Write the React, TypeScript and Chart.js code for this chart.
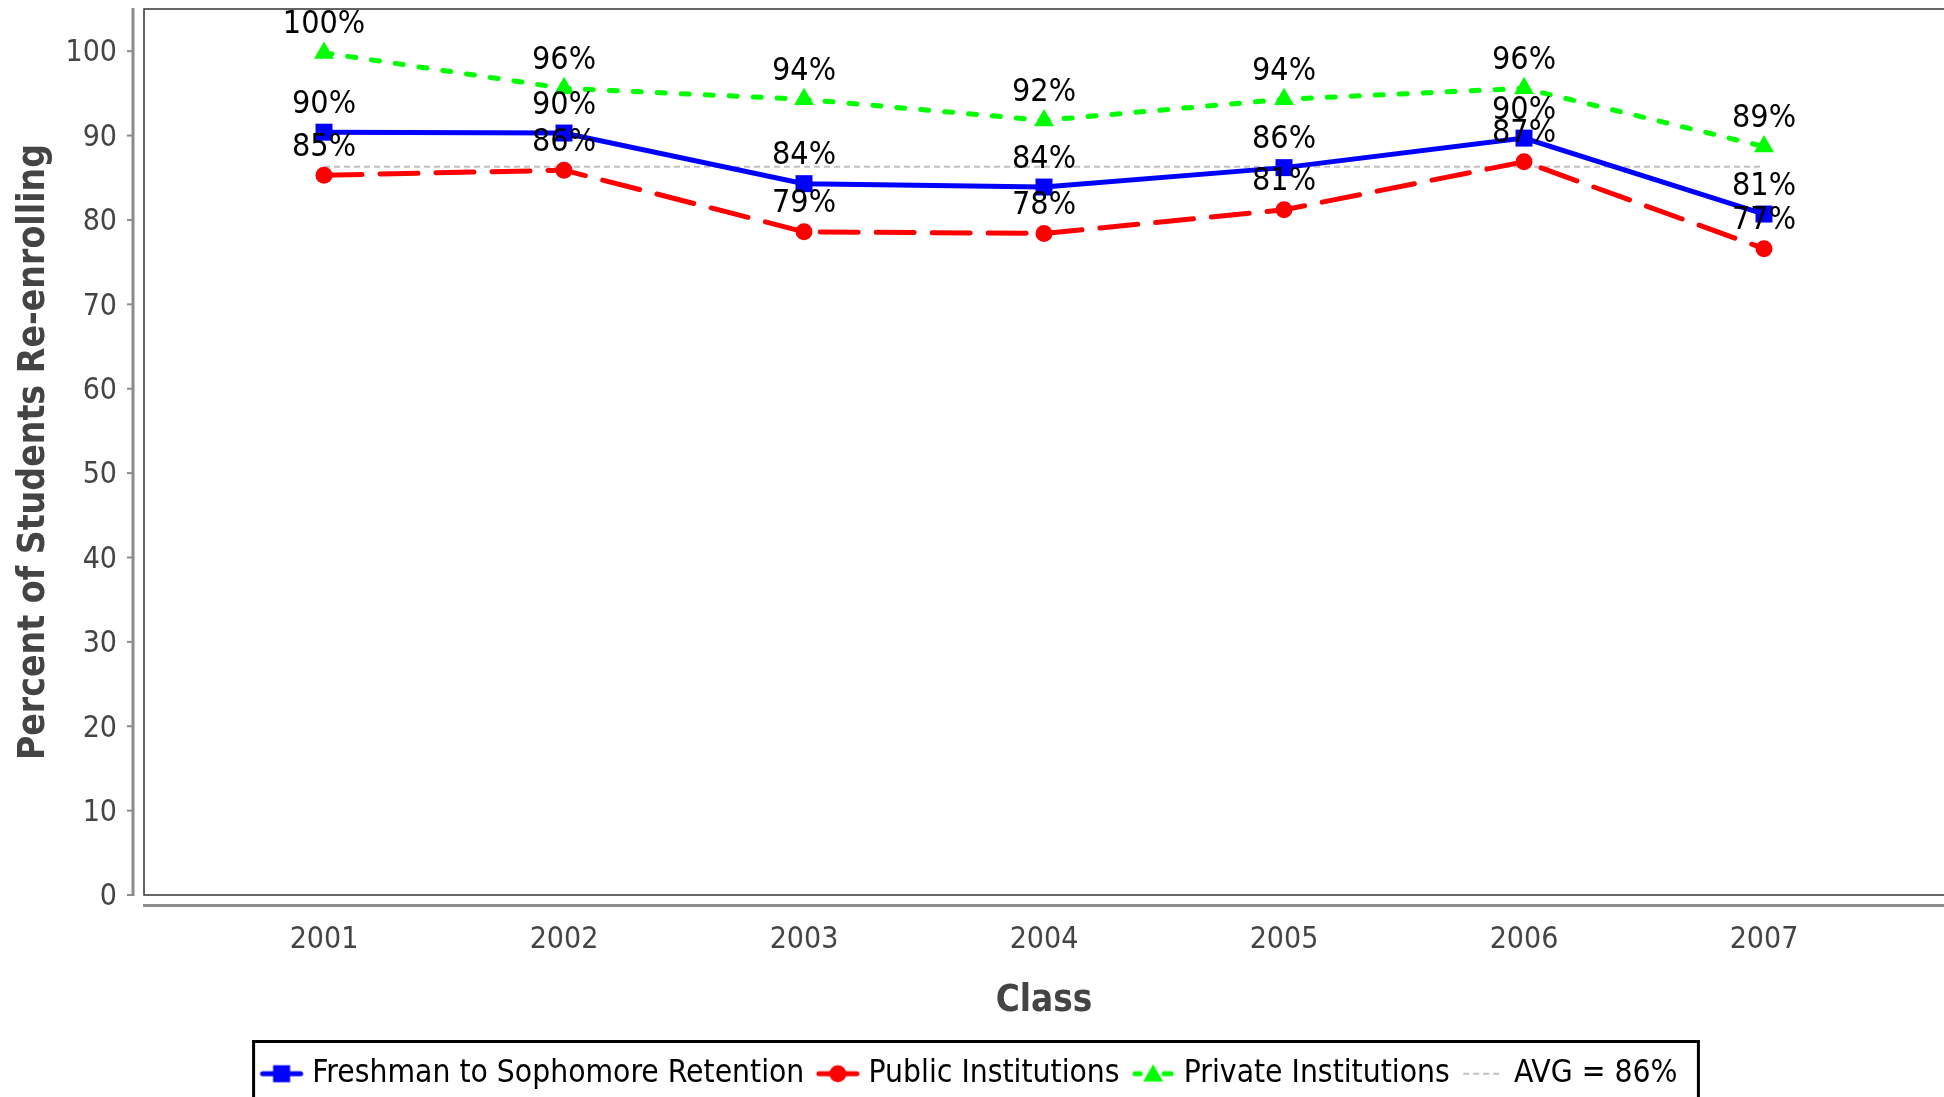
import React, { useEffect, useRef } from 'react';
import { Chart, registerables } from 'chart.js';

Chart.register(...registerables);

const FAMILY = "'DejaVu Sans Condensed', 'DejaVu Sans', sans-serif";

const years = [2001, 2002, 2003, 2004, 2005, 2006, 2007];
const retention = [90.4, 90.3, 84.3, 83.9, 86.2, 89.7, 80.7];
const publicInst = [85.3, 85.9, 78.6, 78.4, 81.2, 86.9, 76.6];
const privateInst = [99.8, 95.6, 94.3, 91.8, 94.3, 95.6, 88.7];
const avgValue = 86.3;
const yTickValues = [0, 10, 20, 30, 40, 50, 60, 70, 80, 90, 100];
const seriesNames = [
  'Freshman to Sophomore Retention',
  'Public Institutions',
  'Private Institutions',
  'AVG = 86%',
];
const xTitle = 'Class';
const yTitle = 'Percent of Students Re-enrolling';

const BLUE = '#0000ff';
const RED = '#ff0000';
const GREEN = '#00ff00';
const GRAY = '#c0c0c0';

function makeIcon(kind: string, color: string): HTMLCanvasElement {
  const c = document.createElement('canvas');
  c.width = 46;
  c.height = 26;
  const g = c.getContext('2d') as CanvasRenderingContext2D;
  const cy = 13;
  const cx = 23;
  g.strokeStyle = color;
  g.fillStyle = color;
  if (kind === 'avg') {
    g.lineWidth = 2;
    g.setLineDash([6, 4]);
    g.beginPath();
    g.moveTo(3, cy);
    g.lineTo(43, cy);
    g.stroke();
    return c;
  }
  g.lineWidth = 5;
  g.lineCap = 'round';
  if (kind === 'tri') {
    g.beginPath();
    g.moveTo(5, cy);
    g.lineTo(10, cy);
    g.moveTo(34, cy);
    g.lineTo(41, cy);
    g.stroke();
  } else {
    g.beginPath();
    g.moveTo(4, cy);
    g.lineTo(42, cy);
    g.stroke();
  }
  if (kind === 'rect') {
    g.fillRect(cx - 8.5, cy - 8.5, 17, 17);
  } else if (kind === 'circle') {
    g.beginPath();
    g.arc(cx, cy, 8.5, 0, Math.PI * 2);
    g.fill();
  } else if (kind === 'tri') {
    const r = 11.5;
    g.beginPath();
    g.moveTo(cx, cy - r + 2);
    g.lineTo(cx + r * 0.866, cy + r / 2 + 2);
    g.lineTo(cx - r * 0.866, cy + r / 2 + 2);
    g.closePath();
    g.fill();
  }
  return c;
}

const framePlugin = {
  id: 'frameAndAxes',
  beforeDatasetsDraw(chart: any) {
    const { ctx, chartArea } = chart;
    const ys = chart.scales.y;
    ctx.save();
    // plot frame
    ctx.strokeStyle = '#333333';
    ctx.lineWidth = 1.5;
    ctx.strokeRect(chartArea.left, chartArea.top, chartArea.right - chartArea.left + 4, chartArea.bottom - chartArea.top);
    // offset y axis line
    ctx.strokeStyle = '#8c8c8c';
    ctx.lineWidth = 3;
    ctx.beginPath();
    ctx.moveTo(chartArea.left - 11, chartArea.top - 1);
    ctx.lineTo(chartArea.left - 11, ys.getPixelForValue(0) + 1);
    ctx.stroke();
    ctx.lineWidth = 2;
    yTickValues.forEach((v) => {
      const py = ys.getPixelForValue(v);
      ctx.beginPath();
      ctx.moveTo(chartArea.left - 17, py);
      ctx.lineTo(chartArea.left - 11, py);
      ctx.stroke();
    });
    // offset x axis line
    ctx.lineWidth = 3;
    ctx.beginPath();
    ctx.moveTo(chartArea.left - 1, chartArea.bottom + 10.5);
    ctx.lineTo(chart.width, chartArea.bottom + 10.5);
    ctx.stroke();
    ctx.restore();
  },
};

const labelPlugin = {
  id: 'valueLabels',
  afterDatasetsDraw(chart: any) {
    const { ctx } = chart;
    const series = [retention, publicInst, privateInst];
    ctx.save();
    ctx.font = `32px ${FAMILY}`;
    ctx.fillStyle = '#000000';
    ctx.textAlign = 'center';
    ctx.textBaseline = 'alphabetic';
    series.forEach((vals, di) => {
      const meta = chart.getDatasetMeta(di);
      meta.data.forEach((pt: any, i: number) => {
        ctx.fillText(Math.round(vals[i]) + '%', pt.x, pt.y - 19.5);
      });
    });
    ctx.restore();
  },
};

const legendBoxPlugin = {
  id: 'legendBox',
  afterDraw(chart: any) {
    const lg = chart.legend;
    if (!lg || !lg.legendHitBoxes || !lg.legendHitBoxes.length) return;
    const hb = lg.legendHitBoxes;
    const last = hb[hb.length - 1];
    const left = hb[0].left - 13;
    const right = last.left + last.width + 21;
    const top = lg.top + 2;
    const { ctx } = chart;
    ctx.save();
    ctx.strokeStyle = '#000000';
    ctx.lineWidth = 3;
    ctx.strokeRect(left, top, right - left, 200);
    ctx.restore();
  },
};

export default function App() {
  const ref = useRef<HTMLCanvasElement | null>(null);

  useEffect(() => {
    document.body.style.margin = '0';
    document.body.style.overflow = 'hidden';
    const canvas = ref.current;
    if (!canvas) return;
    const icons = [
      makeIcon('rect', BLUE),
      makeIcon('circle', RED),
      makeIcon('tri', GREEN),
      makeIcon('avg', GRAY),
    ];
    const toPts = (vals: number[]) => vals.map((v, i) => ({ x: years[i], y: v }));
    const chart = new Chart(canvas, {
      type: 'line',
      data: {
        datasets: [
          {
            label: seriesNames[0],
            data: toPts(retention),
            borderColor: BLUE,
            backgroundColor: BLUE,
            borderWidth: 5,
            pointStyle: 'rect',
            pointRadius: 12,
            pointBorderWidth: 0,
            pointBackgroundColor: BLUE,
            tension: 0,
            order: 1,
          },
          {
            label: seriesNames[1],
            data: toPts(publicInst),
            borderColor: RED,
            backgroundColor: RED,
            borderWidth: 5,
            borderDash: [38, 18],
            borderCapStyle: 'round',
            pointStyle: 'circle',
            pointRadius: 8.5,
            pointBorderWidth: 0,
            pointBackgroundColor: RED,
            tension: 0,
            order: 2,
          },
          {
            label: seriesNames[2],
            data: toPts(privateInst),
            borderColor: GREEN,
            backgroundColor: GREEN,
            borderWidth: 5,
            borderDash: [8, 16],
            borderCapStyle: 'round',
            pointStyle: 'triangle',
            pointRadius: 11.5,
            pointBorderWidth: 0,
            pointBackgroundColor: GREEN,
            tension: 0,
            order: 3,
          },
          {
            label: seriesNames[3],
            data: [
              { x: years[0], y: avgValue },
              { x: years[years.length - 1], y: avgValue },
            ],
            borderColor: GRAY,
            borderWidth: 2,
            borderDash: [6, 4],
            pointRadius: 0,
            tension: 0,
            order: 4,
          },
        ],
      },
      options: {
        responsive: false,
        animation: false,
        devicePixelRatio: 1,
        layout: { autoPadding: false, padding: { top: 9, left: 0, right: 0, bottom: -2.5 } },
        scales: {
          x: {
            type: 'linear',
            min: 2000.25,
            max: 2007.75,
            afterBuildTicks: (s: any) => {
              s.ticks = years.map((v) => ({ value: v }));
            },
            afterFit: (s: any) => {
              s.height = 144.5;
              s.paddingLeft = 0;
              s.paddingRight = 0;
            },
            grid: { display: false, drawTicks: false },
            border: { display: false },
            ticks: {
              color: '#444444',
              font: { family: FAMILY, size: 30 },
              padding: 27.5,
              autoSkip: false,
              maxRotation: 0,
              callback: (v: any) => String(v),
            },
            title: {
              display: true,
              text: xTitle,
              color: '#444444',
              font: { family: FAMILY, size: 36.5, weight: 'bold', lineHeight: 1.2 },
              padding: { top: 0, bottom: 16.5 },
            },
          },
          y: {
            min: 0,
            max: 105,
            afterBuildTicks: (s: any) => {
              s.ticks = yTickValues.map((v) => ({ value: v }));
            },
            afterFit: (s: any) => {
              s.width = 144;
              s.paddingTop = 0;
              s.paddingBottom = 0;
            },
            grid: { display: false, drawTicks: false },
            border: { display: false },
            ticks: {
              color: '#444444',
              font: { family: FAMILY, size: 30, lineHeight: '5px' },
              padding: 27,
              callback: (v: any) => ['', String(v)],
            },
            title: {
              display: true,
              text: yTitle,
              color: '#444444',
              font: { family: FAMILY, size: 37, weight: 'bold', lineHeight: 1.2 },
              padding: { top: 12, bottom: 0 },
            },
          },
        },
        plugins: {
          tooltip: { enabled: false },
          legend: {
            display: true,
            position: 'bottom',
            labels: {
              usePointStyle: true,
              pointStyleWidth: 30,
              padding: 18.5,
              color: '#444444',
              font: { family: FAMILY, size: 31.5 },
              generateLabels: () =>
                seriesNames.map((t, i) => ({
                  text: t,
                  pointStyle: icons[i] as any,
                  fillStyle: 'rgba(0,0,0,0)',
                  strokeStyle: 'rgba(0,0,0,0)',
                  lineWidth: 0,
                  hidden: false,
                  datasetIndex: i,
                })),
            },
          },
        },
      } as any,
      plugins: [framePlugin, labelPlugin, legendBoxPlugin],
    });
    return () => chart.destroy();
  }, []);

  return (
    <div style={{ width: 1944, height: 1097, overflow: 'hidden' }}>
      <canvas ref={ref} width={1944} height={1097} style={{ display: 'block', width: 1944, height: 1097 }} />
    </div>
  );
}
